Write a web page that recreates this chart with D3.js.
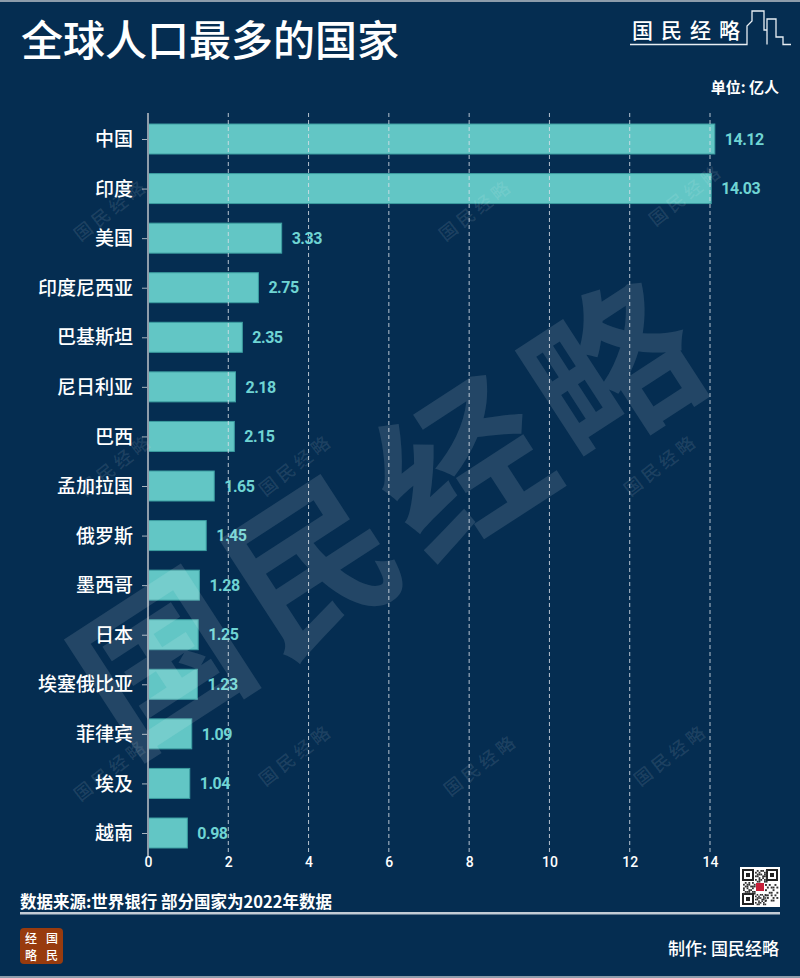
<!DOCTYPE html>
<html><head><meta charset="utf-8">
<script src="https://cdn.jsdelivr.net/npm/d3@7"></script>
<style>
html,body{margin:0;padding:0;background:#052d51;}
svg{display:block;}
</style></head>
<body>
<svg id="chart" width="800" height="978"></svg>
<script>
const countries = ["中国","印度","美国","印度尼西亚","巴基斯坦","尼日利亚","巴西","孟加拉国","俄罗斯","墨西哥","日本","埃塞俄比亚","菲律宾","埃及","越南"];
const population = [14.12,14.03,3.33,2.75,2.35,2.18,2.15,1.65,1.45,1.28,1.25,1.23,1.09,1.04,0.98];
const xTicks = [0,2,4,6,8,10,12,14];
const title = "全球人口最多的国家";
const unitLabel = "单位: 亿人";
const sourceNote = "数据来源:世界银行 部分国家为2022年数据";
const credit = "制作: 国民经略";
const brand = "国民经略";

const W = 800, H = 978;
const svg = d3.select("#chart");
const cjk = "'Noto Sans CJK SC','Noto Sans',sans-serif";
const narrow = "'Roboto','DejaVu Sans Condensed',sans-serif";

svg.append("rect").attr("width",W).attr("height",H).attr("fill","#052d51");
svg.append("rect").attr("width",W).attr("height",2).attr("fill","#8d9cab");
svg.append("rect").attr("y",H-2).attr("width",W).attr("height",2).attr("fill","#8d9cab");

// title
svg.append("text").attr("x",21).attr("y",56).attr("fill","#fff")
  .attr("font-family",cjk).attr("font-size",42).attr("font-weight",500).text(title);

// brand logo top right
const lg = svg.append("g");
lg.append("text").attr("x",632).attr("y",38).attr("fill","#fff")
  .attr("font-family","'Noto Sans CJK SC',serif").attr("font-size",21).attr("font-weight",500)
  .attr("letter-spacing",8).text(brand);
lg.append("path").attr("fill","none").attr("stroke","#e8eef3").attr("stroke-width",1.3)
  .attr("d","M630,44.5 H747 V26 L752,21 V11 H764 V30 H767 V44.5 M767,44.5 V19 H776 V37 H783 V44.5 H791");

// unit
svg.append("text").attr("x",779).attr("y",93).attr("text-anchor","end").attr("fill","#fff")
  .attr("font-family",cjk).attr("font-size",15).attr("font-weight",700).text(unitLabel);

// scales
const x = d3.scaleLinear().domain([0,14]).range([148,710]);
const y = d3.scalePoint().domain(countries).range([139,833]);
const barH = 30;

// bars
svg.append("g").selectAll("rect").data(countries).join("rect")
  .attr("x",x(0)).attr("y",d=>y(d)-barH/2)
  .attr("width",(d,i)=>x(population[i])-x(0)).attr("height",barH)
  .attr("fill","#62c6c5").attr("stroke","#3c9ea1").attr("stroke-width",1);

// gridlines
svg.append("g").selectAll("line").data(xTicks.filter(t=>t>0)).join("line")
  .attr("x1",d=>x(d)).attr("x2",d=>x(d)).attr("y1",113).attr("y2",853)
  .attr("stroke","#d7dee6").attr("stroke-opacity",0.85).attr("stroke-width",1).attr("stroke-dasharray","4,3");

// x axis ticks labels
const xAxis = d3.axisBottom(x).tickValues(xTicks).tickSize(0).tickPadding(0).tickFormat(d3.format("d"));
const xg = svg.append("g").attr("transform","translate(0,854)").call(xAxis);
xg.select(".domain").remove();
xg.selectAll("text").attr("fill","#fff").attr("font-family",narrow).attr("font-size",14)
  .attr("font-weight",500).attr("dy","0.95em");

// y axis
const yAxis = d3.axisLeft(y).tickSize(6).tickPadding(9);
const yg = svg.append("g").attr("transform","translate(148,0)").call(yAxis);
yg.select(".domain").remove();
yg.selectAll("line").attr("stroke","#a9b4bf");
yg.selectAll("text").attr("fill","#fff").attr("font-family",cjk).attr("font-size",19).attr("font-weight",500).attr("dy","0.35em");
svg.append("line").attr("x1",148).attr("x2",148).attr("y1",113).attr("y2",856)
  .attr("stroke","#8f9caa").attr("stroke-width",2);

// value labels
svg.append("g").selectAll("text").data(countries).join("text")
  .attr("x",(d,i)=>x(population[i])+10).attr("y",d=>y(d)).attr("dy","0.36em")
  .attr("fill","#6fd4d3").attr("font-family",narrow).attr("font-weight",700).attr("font-size",16)
  .attr("letter-spacing",-0.5)
  .text((d,i)=>d3.format(".2f")(population[i]));

// watermarks
const wm = svg.append("g").attr("pointer-events","none");
wm.append("text").attr("transform","translate(395,515) rotate(-33)")
  .attr("text-anchor","middle").attr("dy","0.35em").attr("fill","#ffffff").attr("fill-opacity",0.12)
  .attr("font-family",cjk).attr("font-weight",700).attr("font-size",165).attr("letter-spacing",14).text(brand);
const smallPos = [[115,215],[480,215],[690,200],[120,470],[300,470],[665,470],[115,775],[300,760],[485,770],[675,760]];
wm.selectAll("text.s").data(smallPos).join("text").attr("class","s")
  .attr("transform",d=>`translate(${d[0]},${d[1]}) rotate(-38)`)
  .attr("text-anchor","middle").attr("fill","#ffffff").attr("fill-opacity",0.10)
  .attr("font-family",cjk).attr("font-weight",500).attr("font-size",18).attr("letter-spacing",4).text(brand);

// QR-like decoration
const qr = svg.append("g").attr("transform","translate(740,867)");
qr.append("rect").attr("width",40).attr("height",40).attr("fill","#fff");
const finder = [[3,3],[27,3],[3,27]];
finder.forEach(([fx,fy])=>{
  qr.append("rect").attr("x",fx).attr("y",fy).attr("width",10).attr("height",10).attr("fill","none").attr("stroke","#222").attr("stroke-width",2);
  qr.append("rect").attr("x",fx+3).attr("y",fy+3).attr("width",4).attr("height",4).attr("fill","#222");
});
const qrBits = ["0101101","1010010","0111011","1100110","0010101","1011010","0110011"];
qrBits.forEach((row,r)=>row.split("").forEach((b,c)=>{
  if(b==="1") qr.append("rect").attr("x",15+c*1.8).attr("y",3+r*1.8).attr("width",1.8).attr("height",1.8).attr("fill","#333");
  if(b==="1") qr.append("rect").attr("x",3+r*1.8).attr("y",15+c*1.8).attr("width",1.8).attr("height",1.8).attr("fill","#333");
  if(b==="0") qr.append("rect").attr("x",25+c*1.9).attr("y",17+r*2.6).attr("width",1.9).attr("height",1.9).attr("fill","#333");
  if(b==="1") qr.append("rect").attr("x",15+c*1.6).attr("y",27+r*1.6).attr("width",1.6).attr("height",1.6).attr("fill","#333");
}));
qr.append("rect").attr("x",16).attr("y",16).attr("width",8).attr("height",8).attr("fill","#c8203a");

// footer
svg.append("text").attr("x",20).attr("y",908).attr("fill","#fff")
  .attr("font-family",cjk).attr("font-size",16.5).attr("font-weight",700).text(sourceNote);
svg.append("rect").attr("x",20).attr("y",912).attr("width",760).attr("height",2.5).attr("fill","#c3ccd5");

const badge = svg.append("g").attr("transform","translate(20,928)");
badge.append("rect").attr("width",43).attr("height",36).attr("rx",4).attr("fill","#983b0e");
[["经",11,15],["国",32,15],["略",11,31.5],["民",32,31.5]].forEach(([t,bx,by])=>{
  badge.append("text").attr("x",bx).attr("y",by).attr("text-anchor","middle").attr("fill","#fff")
    .attr("font-family","'Noto Sans CJK SC',serif").attr("font-size",12).attr("font-weight",500).text(t);
});

svg.append("text").attr("x",779).attr("y",955).attr("text-anchor","end").attr("fill","#fff")
  .attr("font-family",cjk).attr("font-size",17).attr("font-weight",500).text(credit);
</script>
</body></html>
